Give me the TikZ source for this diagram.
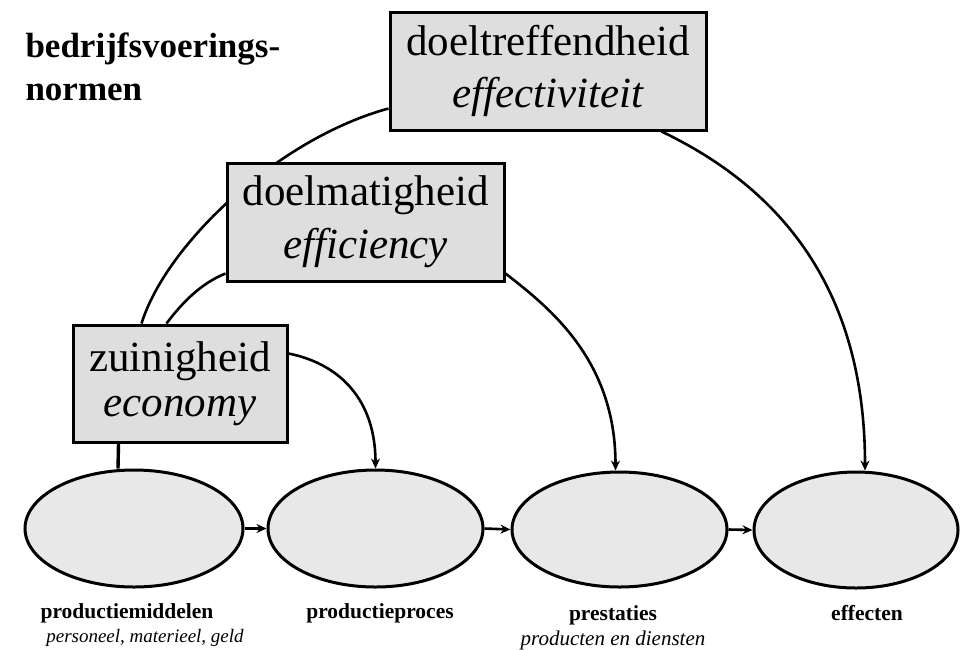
\documentclass[tikz,border=0pt]{standalone}
\usepackage{fontspec}
\setmainfont{Liberation Serif}
\usetikzlibrary{calc,arrows.meta,shapes.geometric}
\pgfdeclarelayer{background}
\pgfsetlayers{background,main}

\begin{document}
\begin{tikzpicture}[x=1pt,y=-1pt,
  norm/.style={draw=black, line width=3pt, fill=black!13, rectangle,
    inner sep=0pt, align=center},
  stage/.style={draw=black, line width=3pt, fill=black!9, ellipse, inner sep=0pt},
  link/.style={line width=2.6pt},
  flow/.style={line width=2.6pt, -{Stealth[length=10pt,width=9pt]}},
  lab/.style={anchor=base, font=\fontsize{21.5}{24}\selectfont\bfseries},
  sub/.style={anchor=base, font=\fontsize{19}{22}\selectfont\itshape},
  ttl/.style={anchor=base west, font=\fontsize{35}{40}\selectfont\bfseries},
]
\useasboundingbox (0,0) rectangle (960,649);

% heading
\node[ttl] (h1) at (22,57) {bedrijfsvoerings-};
\node[ttl] (h2) at (22,100) {normen};

% the three norms
\node[norm, minimum width=316pt, minimum height=118pt,
  font=\fontsize{43}{52}\selectfont] (b1) at (548,71)
  {doeltreffendheid\\\textit{effectiviteit}};
\node[norm, minimum width=277pt, minimum height=118pt,
  font=\fontsize{43}{53}\selectfont] (b2) at (365.5,222)
  {doelmatigheid\\\textit{efficiency}};
\node[norm, minimum width=214pt, minimum height=117pt,
  font=\fontsize{43}{45}\selectfont] (b3) at (180,383.5)
  {zuinigheid\\\textit{economy}};

% the chain of stages
\node[stage, minimum width=218pt, minimum height=117pt] (e1) at (134,528.5) {};
\node[stage, minimum width=215pt, minimum height=117pt] (e2) at (375.5,528.5) {};
\node[stage, minimum width=215pt, minimum height=115pt] (e3) at (619.5,529.5) {};
\node[stage, minimum width=204pt, minimum height=116pt] (e4) at (856,530) {};

\draw[flow] (e1.east) -- (e2.west);
\draw[flow] (e2.east) -- (e3.west);
\draw[flow] (e3.east) -- (e4.west);

% stage labels
\node[lab] (l1) at (127,618) {productiemiddelen};
\node[sub] (s1) at (145,642) {personeel, materieel, geld};
\node[lab] (l2) at (380,618) {productieproces};
\node[lab] (l3) at (613,620) {prestaties};
\node[sub, font=\fontsize{21}{24}\selectfont\itshape] (s3) at (613,645) {producten en diensten};
\node[lab] (l4) at (867,620) {effecten};

% connectors, kept behind the boxes
\begin{pgfonlayer}{background}
\fill[white] (0,0) rectangle (960,649);
% effectiveness: from the resources up over to the effects
\draw[link] ($(b1.south west)+(0,-23)$)
  .. controls +(-110,30) and +(25,-80) .. ($(b3.north west)+(70,0)$);
\draw[flow] ($(b1.south east)+(-46,0)$)
  .. controls +(130,62) and +(0,-170) .. ($(e4.north)+(9,0)$);
% efficiency: from the resources to the outputs
\draw[link] ($(b2.south west)+(0,-9)$)
  .. controls +(-25,10) and +(15,-20) .. ($(b3.north west)+(95,0)$);
\draw[flow] ($(b2.south east)+(0,-9)$)
  .. controls +(45,35) and +(0,-110) .. ($(e3.north)+(-4,0)$);
% economy: from the resources to the process
\draw[flow] ($(b3.north east)+(0,30)$)
  .. controls +(50,10) and +(0,-70) .. (e2.north);
\draw[line width=3.4pt] ($(b3.south west)+(47,0)$) -- ($(e1.north)+(-16,0)$);
\end{pgfonlayer}
\end{tikzpicture}
\end{document}
